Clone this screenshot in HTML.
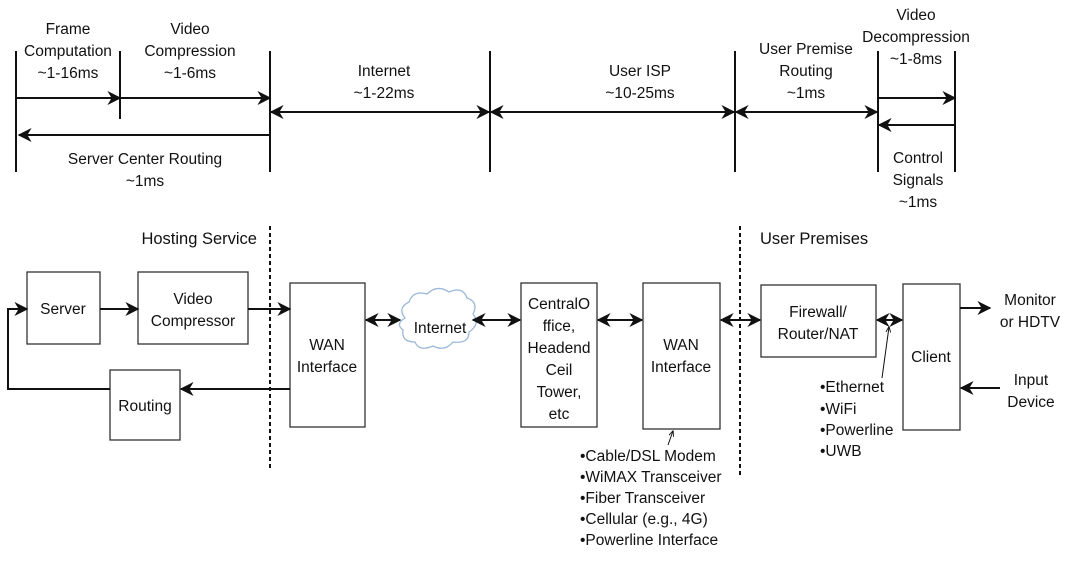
<!DOCTYPE html>
<html><head><meta charset="utf-8"><style>
body{margin:0;background:#fff}
svg text{font-family:"Liberation Sans",sans-serif;font-size:15.5px;fill:#111}
</style></head><body>
<svg width="1080" height="556" xmlns="http://www.w3.org/2000/svg">
<defs>
<marker id="a" viewBox="0 0 10 10" refX="9" refY="5" markerWidth="7" markerHeight="7" orient="auto-start-reverse"><path d="M0,0 L10,5 L0,10 L3,5z" fill="#111"/></marker>
<marker id="t" viewBox="0 0 10 10" refX="9" refY="5" markerWidth="6" markerHeight="6" orient="auto"><path d="M0,1 L10,5 L0,9" fill="none" stroke="#111" stroke-width="1.5"/></marker>
</defs>
<g stroke="#111" stroke-width="2" fill="none">
<line x1="16" y1="51" x2="16" y2="172"/><line x1="120" y1="51" x2="120" y2="119"/>
<line x1="270" y1="51" x2="270" y2="172"/><line x1="490" y1="51" x2="490" y2="172"/>
<line x1="735" y1="51" x2="735" y2="172"/><line x1="878" y1="51" x2="878" y2="172"/>
<line x1="955" y1="51" x2="955" y2="172"/>
<line x1="16" y1="98" x2="120" y2="98" marker-end="url(#a)"/>
<line x1="120" y1="98" x2="270" y2="98" marker-end="url(#a)"/>
<line x1="270" y1="135" x2="19" y2="135" marker-end="url(#a)"/>
<line x1="271" y1="112" x2="489" y2="112" marker-start="url(#a)" marker-end="url(#a)"/>
<line x1="491" y1="112" x2="734" y2="112" marker-start="url(#a)" marker-end="url(#a)"/>
<line x1="736" y1="112" x2="877" y2="112" marker-start="url(#a)" marker-end="url(#a)"/>
<line x1="878" y1="98" x2="955" y2="98" marker-end="url(#a)"/>
<line x1="955" y1="125" x2="879" y2="125" marker-end="url(#a)"/>
</g>
<g text-anchor="middle">
<text x="68" y="34">Frame</text><text x="68" y="56">Computation</text><text x="68" y="78">~1-16ms</text>
<text x="190" y="34">Video</text><text x="190" y="56">Compression</text><text x="190" y="78">~1-6ms</text>
<text x="384" y="76">Internet</text><text x="384" y="98">~1-22ms</text>
<text x="640" y="76">User ISP</text><text x="640" y="98">~10-25ms</text>
<text x="145" y="164">Server Center Routing</text><text x="145" y="186">~1ms</text>
<text x="806" y="54">User Premise</text><text x="806" y="76">Routing</text><text x="806" y="98">~1ms</text>
<text x="916" y="20">Video</text><text x="916" y="42">Decompression</text><text x="916" y="64">~1-8ms</text>
<text x="918" y="163">Control</text><text x="918" y="185">Signals</text><text x="918" y="207">~1ms</text>
</g>
<text x="257" y="244" text-anchor="end" style="font-size:16.5px">Hosting Service</text>
<text x="760" y="244" style="font-size:16.5px">User Premises</text>
<g stroke="#111" stroke-width="2" stroke-dasharray="4,3" fill="none">
<line x1="270" y1="226" x2="270" y2="468"/><line x1="740" y1="226" x2="740" y2="478"/>
</g>
<g stroke="#333" stroke-width="1.3" fill="#fff">
<rect x="27" y="272" width="73" height="72"/><rect x="138" y="272" width="110" height="72"/>
<rect x="290" y="283" width="75" height="144"/><rect x="521" y="283" width="76" height="144"/>
<rect x="643" y="283" width="77" height="146"/><rect x="761" y="285" width="115" height="72"/>
<rect x="903" y="284" width="57" height="146"/><rect x="110" y="370" width="70" height="70"/>
</g>
<path d="M405,318 q-8,-10 4,-16 q4,-12 18,-8 q10,-10 22,-2 q14,-6 18,6 q12,4 6,16 q8,10 -4,18 q0,12 -16,10 q-8,10 -20,4 q-14,6 -18,-4 q-14,0 -12,-12 q-8,-6 2,-12z" fill="#fff" stroke="#9bb8d8" stroke-width="1.3"/>
<g stroke="#111" stroke-width="2" fill="none">
<line x1="100" y1="309" x2="138" y2="309" marker-end="url(#a)"/>
<line x1="248" y1="309" x2="290" y2="309" marker-end="url(#a)"/>
<line x1="290" y1="389" x2="181" y2="389" marker-end="url(#a)"/>
<polyline points="110,389 8,389 8,309 27,309" marker-end="url(#a)"/>
<line x1="366" y1="320" x2="400" y2="320" marker-start="url(#a)" marker-end="url(#a)"/>
<line x1="473" y1="320" x2="520" y2="320" marker-start="url(#a)" marker-end="url(#a)"/>
<line x1="598" y1="320" x2="642" y2="320" marker-start="url(#a)" marker-end="url(#a)"/>
<line x1="721" y1="320" x2="760" y2="320" marker-start="url(#a)" marker-end="url(#a)"/>
<line x1="877" y1="320" x2="902" y2="320" marker-start="url(#a)" marker-end="url(#a)"/>
<line x1="960" y1="308" x2="990" y2="308" marker-end="url(#a)"/>
<line x1="1000" y1="388" x2="961" y2="388" marker-end="url(#a)"/>
</g>
<g stroke="#111" stroke-width="1" fill="none">
<line x1="668" y1="445" x2="673" y2="431" marker-end="url(#t)"/>
<line x1="882" y1="378" x2="889" y2="327" marker-end="url(#t)"/>
</g>
<g text-anchor="middle">
<text x="63" y="314">Server</text>
<text x="193" y="304">Video</text><text x="193" y="326">Compressor</text>
<text x="327" y="350">WAN</text><text x="327" y="372">Interface</text>
<text x="440" y="333">Internet</text>
<text x="559" y="309">CentralO</text><text x="559" y="331">ffice,</text><text x="559" y="353">Headend</text><text x="559" y="375">Ceil</text><text x="559" y="397">Tower,</text><text x="559" y="419">etc</text>
<text x="681" y="350">WAN</text><text x="681" y="372">Interface</text>
<text x="818" y="317">Firewall/</text><text x="818" y="339">Router/NAT</text>
<text x="931" y="362">Client</text>
<text x="145" y="411">Routing</text>
<text x="1030" y="305">Monitor</text><text x="1030" y="327">or HDTV</text>
<text x="1031" y="385">Input</text><text x="1031" y="407">Device</text>
</g>
<g style="font-size:16px">
<text x="580" y="461">•Cable/DSL Modem</text>
<text x="580" y="482">•WiMAX Transceiver</text>
<text x="580" y="503">•Fiber Transceiver</text>
<text x="580" y="524">•Cellular (e.g., 4G)</text>
<text x="580" y="545">•Powerline Interface</text>
<text x="820" y="392">•Ethernet</text>
<text x="820" y="414">•WiFi</text>
<text x="820" y="435">•Powerline</text>
<text x="820" y="456">•UWB</text>
</g>
</svg>
</body></html>
